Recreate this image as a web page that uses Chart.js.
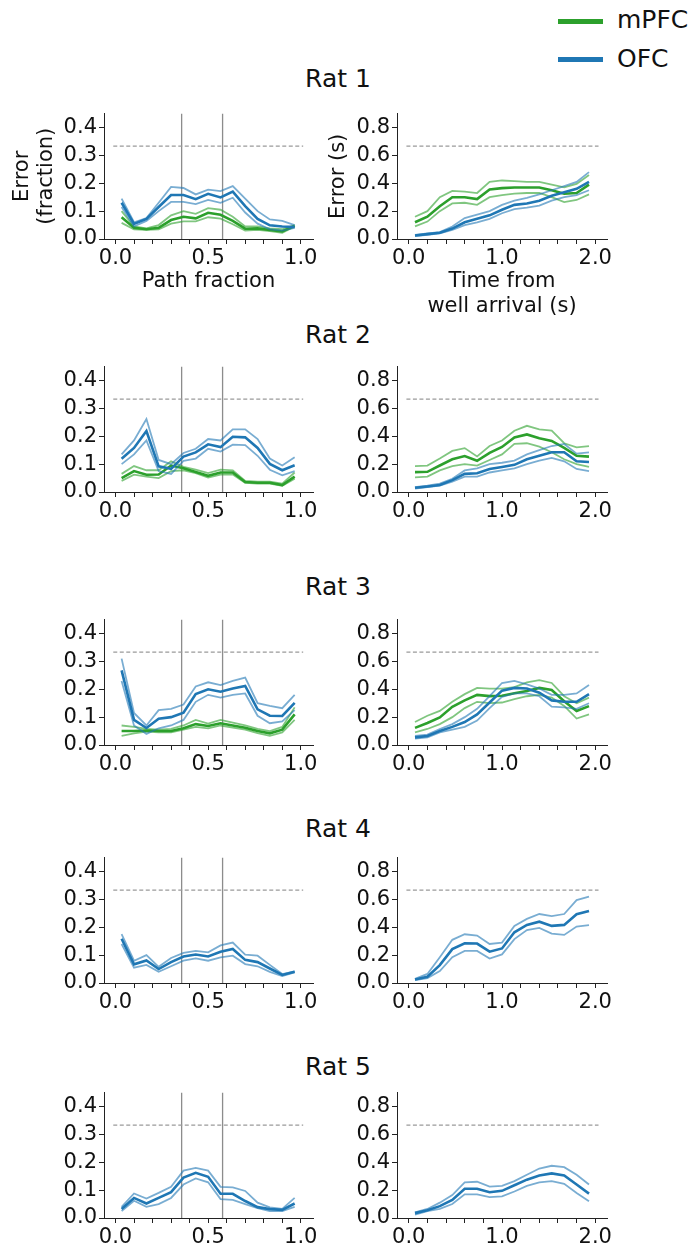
<!DOCTYPE html>
<html>
<head>
<meta charset="utf-8">
<script src="https://cdn.jsdelivr.net/npm/chart.js@4.4.1/dist/chart.umd.min.js"></script>
<style>
  body { margin: 0; background: #fff; }
  #fig { position: relative; width: 693px; height: 1245px; font-family: 'DejaVu Sans', sans-serif; color: #111; overflow: hidden; }
  #fig canvas { position: absolute; }
  .rat { position: absolute; left: 0; width: 676px; text-align: center; font-size: 25px; line-height: 25px; }
  .legLinea { position: absolute; left: 558px; width: 45px; height: 5px; }
  .legTexto { position: absolute; left: 617px; font-size: 25px; line-height: 25px; }
</style>
</head>
<body>
<div id="fig">
  <div class="legLinea" style="top:19px; background:#2ca02c;"></div>
  <div class="legTexto" style="top:7px;">mPFC</div>
  <div class="legLinea" style="top:57px; background:#1f77b4;"></div>
  <div class="legTexto" style="top:45.5px;">OFC</div>
</div>
<script>
// Posiciones de los bins (centros)
const pathX = [0.033, 0.1, 0.167, 0.233, 0.3, 0.367, 0.433, 0.5, 0.567, 0.633, 0.7, 0.767, 0.833, 0.9, 0.967];
const timeX = [0.067, 0.2, 0.333, 0.467, 0.6, 0.733, 0.867, 1.0, 1.133, 1.267, 1.4, 1.533, 1.667, 1.8, 1.933];

// Ticks de los ejes
const pathTicks = [0, 0.1, 0.2, 0.3, 0.4, 0.5, 0.6, 0.7, 0.8, 0.9, 1.0];
const pathLabels = [0, 0.5, 1.0];
const timeTicks = [0, 0.2, 0.4, 0.6, 0.8, 1.0, 1.2, 1.4, 1.6, 1.8, 2.0];
const timeLabels = [0, 1.0, 2.0];
const pathYTicks = [0, 0.1, 0.2, 0.3, 0.4];
const timeYTicks = [0, 0.2, 0.4, 0.6, 0.8];

// Nivel de azar y marcas de la trayectoria
const chancePath = 1 / 3;
const chanceTime = 2 / 3;
const pathMarks = [0.357, 0.578];

const ratNames = ['Rat 1', 'Rat 2', 'Rat 3', 'Rat 4', 'Rat 5'];

// Rat 1
const r1PathMpfc   = [0.078, 0.040, 0.035, 0.040, 0.068, 0.080, 0.074, 0.094, 0.087, 0.065, 0.037, 0.038, 0.032, 0.027, 0.047];
const r1PathMpfcLo = [0.058, 0.035, 0.033, 0.035, 0.055, 0.063, 0.063, 0.078, 0.073, 0.053, 0.030, 0.033, 0.028, 0.022, 0.045];
const r1PathMpfcHi = [0.100, 0.045, 0.038, 0.050, 0.085, 0.100, 0.090, 0.111, 0.105, 0.080, 0.045, 0.045, 0.038, 0.035, 0.050];
const r1PathOfc    = [0.130, 0.054, 0.072, 0.115, 0.158, 0.158, 0.143, 0.162, 0.149, 0.170, 0.118, 0.072, 0.049, 0.045, 0.043];
const r1PathOfcLo  = [0.115, 0.045, 0.065, 0.100, 0.133, 0.133, 0.125, 0.140, 0.130, 0.148, 0.095, 0.055, 0.035, 0.030, 0.040];
const r1PathOfcHi  = [0.145, 0.060, 0.075, 0.130, 0.187, 0.183, 0.160, 0.177, 0.172, 0.190, 0.145, 0.100, 0.070, 0.065, 0.050];
const r1TimeMpfc   = [0.120, 0.160, 0.235, 0.300, 0.300, 0.287, 0.356, 0.365, 0.370, 0.370, 0.370, 0.350, 0.325, 0.330, 0.390];
const r1TimeMpfcLo = [0.090, 0.125, 0.200, 0.255, 0.260, 0.245, 0.300, 0.315, 0.325, 0.330, 0.330, 0.300, 0.265, 0.280, 0.320];
const r1TimeMpfcHi = [0.160, 0.200, 0.300, 0.345, 0.340, 0.330, 0.410, 0.420, 0.415, 0.410, 0.410, 0.390, 0.370, 0.395, 0.460];
const r1TimeOfc    = [0.025, 0.035, 0.045, 0.075, 0.120, 0.145, 0.170, 0.210, 0.245, 0.255, 0.275, 0.310, 0.335, 0.360, 0.410];
const r1TimeOfcLo  = [0.020, 0.030, 0.040, 0.065, 0.100, 0.120, 0.145, 0.185, 0.215, 0.225, 0.240, 0.275, 0.300, 0.315, 0.350];
const r1TimeOfcHi  = [0.030, 0.040, 0.050, 0.090, 0.150, 0.175, 0.200, 0.245, 0.275, 0.295, 0.320, 0.350, 0.380, 0.410, 0.480];

// Rat 2
const r2PathMpfc   = [0.050, 0.075, 0.062, 0.063, 0.095, 0.085, 0.072, 0.058, 0.070, 0.070, 0.036, 0.033, 0.033, 0.025, 0.055];
const r2PathMpfcLo = [0.040, 0.062, 0.055, 0.050, 0.075, 0.078, 0.068, 0.052, 0.062, 0.063, 0.033, 0.030, 0.030, 0.022, 0.048];
const r2PathMpfcHi = [0.065, 0.093, 0.078, 0.078, 0.110, 0.090, 0.080, 0.068, 0.080, 0.078, 0.040, 0.037, 0.037, 0.030, 0.070];
const r2PathOfc    = [0.119, 0.158, 0.219, 0.092, 0.083, 0.127, 0.142, 0.171, 0.161, 0.198, 0.196, 0.158, 0.101, 0.078, 0.096];
const r2PathOfcLo  = [0.100, 0.135, 0.185, 0.075, 0.065, 0.112, 0.120, 0.155, 0.145, 0.170, 0.168, 0.130, 0.080, 0.060, 0.075];
const r2PathOfcHi  = [0.135, 0.185, 0.262, 0.115, 0.100, 0.140, 0.155, 0.190, 0.185, 0.225, 0.225, 0.190, 0.120, 0.095, 0.125];
const r2TimeMpfc   = [0.143, 0.145, 0.190, 0.235, 0.258, 0.224, 0.281, 0.323, 0.392, 0.413, 0.385, 0.367, 0.316, 0.260, 0.254];
const r2TimeMpfcLo = [0.105, 0.110, 0.155, 0.185, 0.200, 0.190, 0.230, 0.270, 0.345, 0.350, 0.325, 0.285, 0.235, 0.200, 0.180];
const r2TimeMpfcHi = [0.185, 0.190, 0.240, 0.295, 0.315, 0.255, 0.330, 0.370, 0.440, 0.475, 0.450, 0.440, 0.350, 0.320, 0.330];
const r2TimeOfc    = [0.030, 0.040, 0.050, 0.085, 0.130, 0.135, 0.165, 0.180, 0.195, 0.235, 0.260, 0.285, 0.285, 0.220, 0.215];
const r2TimeOfcLo  = [0.025, 0.035, 0.045, 0.075, 0.110, 0.110, 0.140, 0.155, 0.170, 0.200, 0.225, 0.245, 0.220, 0.165, 0.150];
const r2TimeOfcHi  = [0.035, 0.045, 0.060, 0.095, 0.155, 0.170, 0.200, 0.210, 0.225, 0.270, 0.300, 0.330, 0.345, 0.275, 0.285];

// Rat 3
const r3PathMpfc   = [0.050, 0.050, 0.052, 0.050, 0.050, 0.060, 0.075, 0.068, 0.078, 0.070, 0.062, 0.050, 0.042, 0.055, 0.110];
const r3PathMpfcLo = [0.033, 0.042, 0.048, 0.045, 0.045, 0.055, 0.065, 0.060, 0.070, 0.062, 0.055, 0.043, 0.033, 0.045, 0.090];
const r3PathMpfcHi = [0.070, 0.065, 0.058, 0.055, 0.058, 0.070, 0.090, 0.077, 0.090, 0.080, 0.070, 0.058, 0.050, 0.065, 0.135];
const r3PathOfc    = [0.268, 0.090, 0.061, 0.094, 0.100, 0.116, 0.183, 0.200, 0.191, 0.203, 0.212, 0.128, 0.105, 0.104, 0.151];
const r3PathOfcLo  = [0.230, 0.070, 0.040, 0.060, 0.070, 0.090, 0.155, 0.180, 0.170, 0.180, 0.185, 0.105, 0.078, 0.085, 0.125];
const r3PathOfcHi  = [0.310, 0.115, 0.070, 0.125, 0.130, 0.145, 0.210, 0.225, 0.215, 0.230, 0.242, 0.150, 0.140, 0.132, 0.180];
const r3TimeMpfc   = [0.123, 0.158, 0.198, 0.274, 0.320, 0.360, 0.351, 0.353, 0.372, 0.388, 0.410, 0.395, 0.314, 0.244, 0.279];
const r3TimeMpfcLo = [0.090, 0.115, 0.150, 0.200, 0.265, 0.310, 0.300, 0.305, 0.330, 0.350, 0.360, 0.340, 0.280, 0.190, 0.220];
const r3TimeMpfcHi = [0.165, 0.210, 0.245, 0.310, 0.365, 0.410, 0.405, 0.405, 0.415, 0.450, 0.465, 0.445, 0.350, 0.300, 0.340];
const r3TimeOfc    = [0.055, 0.065, 0.100, 0.130, 0.165, 0.220, 0.305, 0.390, 0.410, 0.405, 0.375, 0.320, 0.310, 0.310, 0.365];
const r3TimeOfcLo  = [0.045, 0.055, 0.090, 0.110, 0.130, 0.175, 0.265, 0.345, 0.370, 0.370, 0.350, 0.275, 0.270, 0.260, 0.300];
const r3TimeOfcHi  = [0.065, 0.075, 0.115, 0.150, 0.200, 0.260, 0.350, 0.445, 0.460, 0.435, 0.405, 0.360, 0.360, 0.370, 0.430];

// Rat 4 (solo OFC)
const r4PathOfc    = [0.159, 0.067, 0.081, 0.050, 0.075, 0.095, 0.102, 0.095, 0.112, 0.122, 0.083, 0.075, 0.052, 0.029, 0.040];
const r4PathOfcLo  = [0.140, 0.055, 0.065, 0.040, 0.060, 0.080, 0.088, 0.080, 0.092, 0.098, 0.068, 0.060, 0.040, 0.025, 0.038];
const r4PathOfcHi  = [0.175, 0.080, 0.100, 0.058, 0.090, 0.108, 0.115, 0.110, 0.135, 0.145, 0.102, 0.098, 0.065, 0.032, 0.042];
const r4TimeOfc    = [0.025, 0.045, 0.128, 0.243, 0.285, 0.283, 0.225, 0.248, 0.364, 0.417, 0.440, 0.410, 0.417, 0.494, 0.517];
const r4TimeOfcLo  = [0.020, 0.035, 0.085, 0.185, 0.230, 0.230, 0.175, 0.205, 0.315, 0.380, 0.395, 0.355, 0.345, 0.405, 0.415];
const r4TimeOfcHi  = [0.030, 0.065, 0.185, 0.310, 0.350, 0.340, 0.280, 0.290, 0.410, 0.460, 0.495, 0.480, 0.495, 0.595, 0.620];

// Rat 5 (solo OFC)
const r5PathOfc    = [0.032, 0.072, 0.052, 0.072, 0.093, 0.145, 0.162, 0.148, 0.087, 0.087, 0.061, 0.039, 0.032, 0.029, 0.052];
const r5PathOfcLo  = [0.025, 0.062, 0.040, 0.050, 0.072, 0.120, 0.142, 0.128, 0.068, 0.065, 0.050, 0.035, 0.025, 0.025, 0.040];
const r5PathOfcHi  = [0.040, 0.088, 0.070, 0.090, 0.112, 0.170, 0.180, 0.170, 0.112, 0.110, 0.097, 0.055, 0.038, 0.033, 0.072];
const r5TimeOfc    = [0.035, 0.055, 0.085, 0.130, 0.210, 0.210, 0.185, 0.195, 0.235, 0.275, 0.305, 0.320, 0.305, 0.240, 0.175];
const r5TimeOfcLo  = [0.025, 0.050, 0.065, 0.100, 0.170, 0.170, 0.150, 0.155, 0.190, 0.230, 0.255, 0.265, 0.245, 0.180, 0.120];
const r5TimeOfcHi  = [0.040, 0.065, 0.110, 0.165, 0.255, 0.260, 0.225, 0.230, 0.265, 0.310, 0.355, 0.375, 0.365, 0.310, 0.240];

// Lista de paneles: [lo, media, hi] por region
const panels = [
  { fila: 0, tipo: 'path', mpfc: [r1PathMpfcLo, r1PathMpfc, r1PathMpfcHi], ofc: [r1PathOfcLo, r1PathOfc, r1PathOfcHi] },
  { fila: 0, tipo: 'time', mpfc: [r1TimeMpfcLo, r1TimeMpfc, r1TimeMpfcHi], ofc: [r1TimeOfcLo, r1TimeOfc, r1TimeOfcHi] },
  { fila: 1, tipo: 'path', mpfc: [r2PathMpfcLo, r2PathMpfc, r2PathMpfcHi], ofc: [r2PathOfcLo, r2PathOfc, r2PathOfcHi] },
  { fila: 1, tipo: 'time', mpfc: [r2TimeMpfcLo, r2TimeMpfc, r2TimeMpfcHi], ofc: [r2TimeOfcLo, r2TimeOfc, r2TimeOfcHi] },
  { fila: 2, tipo: 'path', mpfc: [r3PathMpfcLo, r3PathMpfc, r3PathMpfcHi], ofc: [r3PathOfcLo, r3PathOfc, r3PathOfcHi] },
  { fila: 2, tipo: 'time', mpfc: [r3TimeMpfcLo, r3TimeMpfc, r3TimeMpfcHi], ofc: [r3TimeOfcLo, r3TimeOfc, r3TimeOfcHi] },
  { fila: 3, tipo: 'path', mpfc: null, ofc: [r4PathOfcLo, r4PathOfc, r4PathOfcHi] },
  { fila: 3, tipo: 'time', mpfc: null, ofc: [r4TimeOfcLo, r4TimeOfc, r4TimeOfcHi] },
  { fila: 4, tipo: 'path', mpfc: null, ofc: [r5PathOfcLo, r5PathOfc, r5PathOfcHi] },
  { fila: 4, tipo: 'time', mpfc: null, ofc: [r5TimeOfcLo, r5TimeOfc, r5TimeOfcHi] },
];

// Layout (pixeles)
const rowTops = [109, 362, 615, 853, 1088];
const titleTops = [65.5, 322, 574, 816, 1054];
const axisH = 130;
const fuente = "'DejaVu Sans', sans-serif";
const azul = '#1f77b4', azulCI = 'rgba(31,119,180,0.6)';
const verde = '#2ca02c', verdeCI = 'rgba(44,160,44,0.6)';

const fig = document.getElementById('fig');

ratNames.forEach((nombre, i) => {
    const div = document.createElement('div');
    div.className = 'rat';
    div.style.top = titleTops[i] + 'px';
    div.textContent = nombre;
    fig.appendChild(div);
});

function linea(xs, ys, color, ancho) {
    return {
        data: xs.map((x, i) => ({ x: x, y: ys[i] })),
        borderColor: color,
        borderWidth: ancho,
        pointRadius: 0,
        tension: 0,
        fill: false,
    };
}

function crearPanel(p) {
    const esPath = p.tipo === 'path';
    const primera = p.fila === 0;
    const xs = esPath ? pathX : timeX;
    const yMax = esPath ? 0.45 : 0.9;
    const chance = esPath ? chancePath : chanceTime;

    const left = esPath ? 0 : 320;
    const width = esPath ? 330 : 373;
    const anchoY = esPath ? 104 : 77;
    const padRight = esPath ? 17 : 86;
    let altoX = 40;
    if (primera) altoX = esPath ? 59 : 84;

    const canvas = document.createElement('canvas');
    canvas.width = width;
    canvas.height = 10 + axisH + altoX;
    canvas.style.left = left + 'px';
    canvas.style.top = (rowTops[p.fila] - 10) + 'px';
    fig.appendChild(canvas);

    const datasets = [];
    // OFC encima de mPFC
    datasets.push(linea(xs, p.ofc[1], azul, 2.6));
    datasets.push(linea(xs, p.ofc[0], azulCI, 1.8));
    datasets.push(linea(xs, p.ofc[2], azulCI, 1.8));
    if (p.mpfc) {
        datasets.push(linea(xs, p.mpfc[1], verde, 2.6));
        datasets.push(linea(xs, p.mpfc[0], verdeCI, 1.8));
        datasets.push(linea(xs, p.mpfc[2], verdeCI, 1.8));
    }
    // linea de azar
    const span = esPath ? [-0.012, 1.013] : [-0.025, 2.035];
    const azar = linea(span, [chance, chance], '#9a9a9a', 1.1);
    azar.borderDash = [4, 2.5];
    datasets.push(azar);
    if (esPath) {
        pathMarks.forEach(m => datasets.push(linea([m, m], [0, yMax], '#8c8c8c', 1.3)));
    }

    const xTicks = esPath ? pathTicks : timeTicks;
    const xLabels = esPath ? pathLabels : timeLabels;
    const yTicks = esPath ? pathYTicks : timeYTicks;

    let xTitulo = { display: false };
    let yTitulo = { display: false };
    if (primera) {
        xTitulo = {
            display: true,
            text: esPath ? 'Path fraction' : ['Time from', 'well arrival (s)'],
            color: '#111',
            font: { family: fuente, size: 21, lineHeight: 25 / 21 },
            padding: { top: 0, bottom: 4 },
        };
        yTitulo = {
            display: true,
            text: esPath ? ['Error', '(fraction)'] : 'Error (s)',
            color: '#111',
            font: { family: fuente, size: 21, lineHeight: 24 / 21 },
            padding: { top: esPath ? 10.5 : 7, bottom: 0 },
        };
    }

    new Chart(canvas, {
        type: 'line',
        data: { datasets: datasets },
        options: {
            responsive: false,
            animation: false,
            layout: { padding: { top: 10, right: padRight, left: 0, bottom: 0 } },
            plugins: { legend: { display: false }, tooltip: { enabled: false } },
            scales: {
                x: {
                    type: 'linear',
                    min: esPath ? -0.062 : -0.126,
                    max: esPath ? 1.066 : 2.126,
                    afterBuildTicks: s => { s.ticks = xTicks.map(v => ({ value: v })); },
                    afterFit: s => { s.height = altoX; },
                    grid: { drawOnChartArea: false, drawTicks: true, tickLength: 5, tickColor: '#222', tickWidth: 1 },
                    border: { display: true, color: '#222', width: 1 },
                    ticks: {
                        color: '#111',
                        font: { family: fuente, size: 21 },
                        padding: 2,
                        maxRotation: 0,
                        autoSkip: false,
                        callback: v => xLabels.some(l => Math.abs(l - v) < 1e-6) ? v.toFixed(1) : '',
                    },
                    title: xTitulo,
                },
                y: {
                    type: 'linear',
                    min: 0,
                    max: yMax,
                    afterBuildTicks: s => { s.ticks = yTicks.map(v => ({ value: v })); },
                    afterFit: s => { s.width = anchoY; },
                    grid: { drawOnChartArea: false, drawTicks: true, tickLength: 5, tickColor: '#222', tickWidth: 1 },
                    border: { display: true, color: '#222', width: 1 },
                    ticks: {
                        color: '#111',
                        font: { family: fuente, size: 21 },
                        padding: 2,
                        callback: v => v.toFixed(1),
                    },
                    title: yTitulo,
                },
            },
        },
    });
}

panels.forEach(crearPanel);
</script>
</body>
</html>
